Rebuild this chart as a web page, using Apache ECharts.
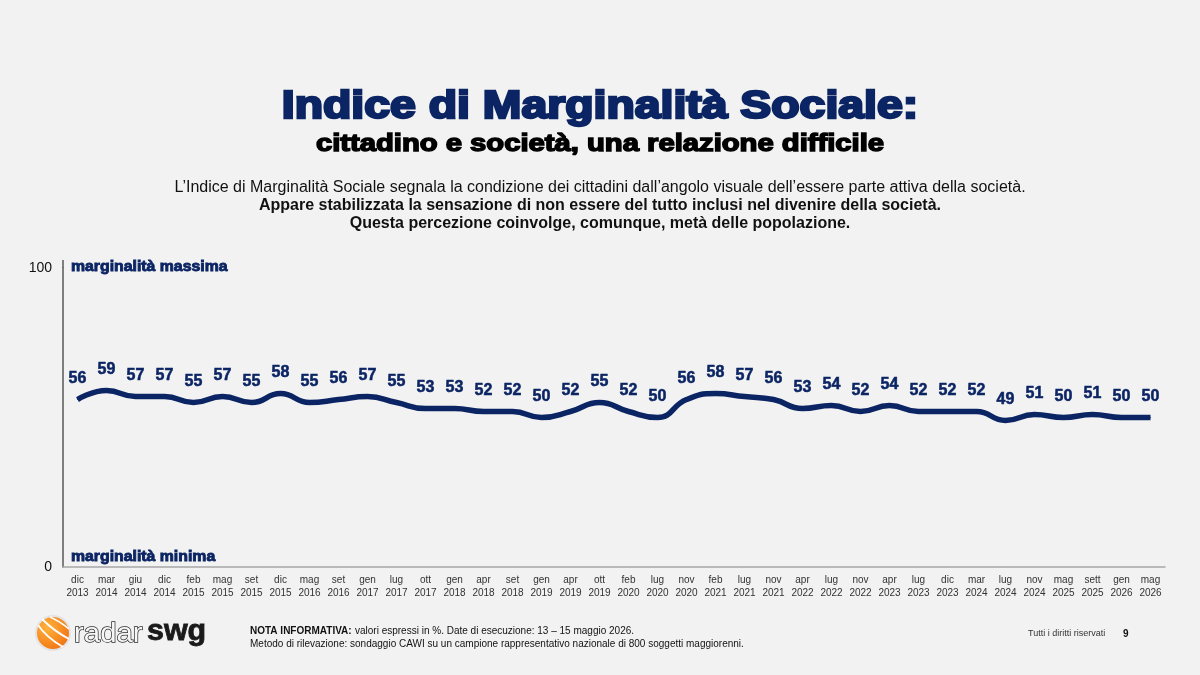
<!DOCTYPE html>
<html>
<head>
<meta charset="utf-8">
<script src="https://cdn.jsdelivr.net/npm/echarts@6/dist/echarts.min.js"></script>
<style>
  html, body { margin: 0; padding: 0; background: #f2f2f2; }
  #chart { width: 1200px; height: 675px; }
</style>
</head>
<body>
<div id="chart"></div>
<script>
const months = ['dic', 'mar', 'giu', 'dic', 'feb', 'mag', 'set', 'dic', 'mag', 'set',
  'gen', 'lug', 'ott', 'gen', 'apr', 'set', 'gen', 'apr', 'ott', 'feb',
  'lug', 'nov', 'feb', 'lug', 'nov', 'apr', 'lug', 'nov', 'apr', 'lug',
  'dic', 'mar', 'lug', 'nov', 'mag', 'sett', 'gen', 'mag']
const years = ['2013', '2014', '2014', '2014', '2015', '2015', '2015', '2015', '2016', '2016',
  '2017', '2017', '2017', '2018', '2018', '2018', '2019', '2019', '2019', '2020',
  '2020', '2020', '2021', '2021', '2021', '2022', '2022', '2022', '2023', '2023',
  '2023', '2024', '2024', '2024', '2025', '2025', '2026', '2026']
const indice = [56, 59, 57, 57, 55, 57, 55, 58, 55, 56,
  57, 55, 53, 53, 52, 52, 50, 52, 55, 52,
  50, 56, 58, 57, 56, 53, 54, 52, 54, 52,
  52, 52, 49, 51, 50, 51, 50, 50]
const yTicks = [0, 100]

const navy = '#0b2463'
const font = '"Liberation Sans", Arial, sans-serif'
const categories = months.map((m, i) => m + '\n' + years[i])

const chart = echarts.init(document.getElementById('chart'))

chart.setOption({
  backgroundColor: '#f2f2f2',
  animation: false,
  grid: {
    left: 63,
    right: 35,
    top: 268,
    bottom: 108
  },
  xAxis: {
    type: 'category',
    data: categories,
    boundaryGap: true,
    axisLine: { lineStyle: { color: '#a6a6a6', width: 1.5 } },
    axisTick: { show: false },
    axisLabel: {
      interval: 0,
      color: '#333',
      fontSize: 10,
      lineHeight: 13,
      margin: 7,
      fontFamily: font
    }
  },
  yAxis: {
    type: 'value',
    min: yTicks[0],
    max: yTicks[1],
    interval: 100,
    splitLine: { show: false },
    axisLine: { show: true, lineStyle: { color: '#595959', width: 1.5 } },
    axisTick: { show: false },
    axisLabel: {
      color: '#111',
      fontSize: 14,
      margin: 11,
      fontFamily: font
    }
  },
  series: [{
    type: 'line',
    data: indice,
    smooth: 0.5,
    symbol: 'circle',
    symbolSize: 1,
    itemStyle: { color: navy },
    lineStyle: { color: navy, width: 5.5 },
    label: {
      show: true,
      position: 'top',
      distance: 12,
      color: navy,
      fontSize: 16,
      fontWeight: 'bold',
      fontFamily: font,
      textBorderColor: navy,
      textBorderWidth: 0.5
    }
  }],
  graphic: [
    // titolo
    {
      type: 'text', x: 600, y: 108, scaleX: 1.22,
      style: {
        text: 'Indice di Marginalità Sociale:',
        align: 'center', verticalAlign: 'middle',
        fill: navy, stroke: navy, lineWidth: 2.4,
        font: 'bold 38px ' + font
      }
    },
    {
      type: 'text', x: 600, y: 145, scaleX: 1.27,
      style: {
        text: 'cittadino e società, una relazione difficile',
        align: 'center', verticalAlign: 'middle',
        fill: '#000', stroke: '#000', lineWidth: 1.4,
        font: 'bold 23px ' + font
      }
    },
    {
      type: 'text', x: 600, y: 188,
      style: {
        text: 'L\u2019Indice di Marginalità Sociale segnala la condizione dei cittadini dall\u2019angolo visuale dell\u2019essere parte attiva della società.',
        align: 'center', verticalAlign: 'middle',
        fill: '#111',
        font: '16px ' + font
      }
    },
    {
      type: 'text', x: 600, y: 206,
      style: {
        text: 'Appare stabilizzata la sensazione di non essere del tutto inclusi nel divenire della società.',
        align: 'center', verticalAlign: 'middle',
        fill: '#111',
        font: 'bold 16px ' + font
      }
    },
    {
      type: 'text', x: 600, y: 224,
      style: {
        text: 'Questa percezione coinvolge, comunque, metà delle popolazione.',
        align: 'center', verticalAlign: 'middle',
        fill: '#111',
        font: 'bold 16px ' + font
      }
    },
    // etichette asse
    {
      type: 'text', x: 71, y: 267, scaleX: 1.13,
      style: {
        text: 'marginalità massima',
        verticalAlign: 'middle',
        fill: navy, stroke: navy, lineWidth: 0.8,
        font: 'bold 14px ' + font
      }
    },
    {
      type: 'text', x: 71, y: 557, scaleX: 1.13,
      style: {
        text: 'marginalità minima',
        verticalAlign: 'middle',
        fill: navy, stroke: navy, lineWidth: 0.8,
        font: 'bold 14px ' + font
      }
    },
    {
      type: 'line',
      shape: { x1: 63, y1: 260, x2: 63, y2: 268 },
      style: { stroke: '#595959', lineWidth: 1.5 }
    },
    // logo
    {
      type: 'circle',
      shape: { cx: 53, cy: 633, r: 17 },
      style: {
        fill: new echarts.graphic.RadialGradient(0.35, 0.35, 0.8, [
          { offset: 0, color: '#ffb13b' },
          { offset: 1, color: '#ee6a0c' }
        ]),
        stroke: '#e3e3e3', lineWidth: 2
      }
    },
    {
      type: 'bezierCurve',
      shape: { x1: 38, y1: 625, cpx1: 46, cpy1: 637, x2: 63, y2: 647 },
      style: { stroke: '#fff', lineWidth: 1.8, fill: null }
    },
    {
      type: 'bezierCurve',
      shape: { x1: 42, y1: 619, cpx1: 54, cpy1: 631, x2: 69, y2: 639 },
      style: { stroke: '#fff', lineWidth: 1.8, fill: null }
    },
    {
      type: 'bezierCurve',
      shape: { x1: 50, y1: 617, cpx1: 61, cpy1: 622, x2: 69, y2: 629 },
      style: { stroke: '#fff', lineWidth: 1.5, fill: null }
    },
    {
      type: 'text', x: 74, y: 634, scaleX: 1.05,
      style: {
        text: 'radar',
        verticalAlign: 'middle',
        fill: '#f7f7f7', stroke: '#2a2a2a', lineWidth: 1.4,
        font: '28px ' + font
      }
    },
    {
      type: 'text', x: 147, y: 632, scaleX: 1.05,
      style: {
        text: 'swg',
        verticalAlign: 'middle',
        fill: '#1a1a1a', stroke: '#1a1a1a', lineWidth: 0.8,
        font: 'bold 29px ' + font
      }
    },
    // nota
    {
      type: 'text', x: 250, y: 631,
      style: {
        verticalAlign: 'middle',
        rich: {
          b: { fontWeight: 'bold', fontSize: 10, fill: '#111', fontFamily: font },
          n: { fontSize: 10, fill: '#111', fontFamily: font }
        },
        text: '{b|NOTA INFORMATIVA:} {n|valori espressi in %. Date di esecuzione: 13 \u2013 15 maggio 2026.}'
      }
    },
    {
      type: 'text', x: 250, y: 644,
      style: {
        text: 'Metodo di rilevazione: sondaggio CAWI su un campione rappresentativo nazionale di 800 soggetti maggiorenni.',
        verticalAlign: 'middle',
        fill: '#111',
        font: '10px ' + font
      }
    },
    {
      type: 'text', x: 1028, y: 634,
      style: {
        text: 'Tutti i diritti riservati',
        verticalAlign: 'middle',
        fill: '#333',
        font: '9px ' + font
      }
    },
    {
      type: 'text', x: 1123, y: 634,
      style: {
        text: '9',
        verticalAlign: 'middle',
        fill: '#111',
        font: 'bold 10px ' + font
      }
    }
  ]
})
</script>
</body>
</html>
